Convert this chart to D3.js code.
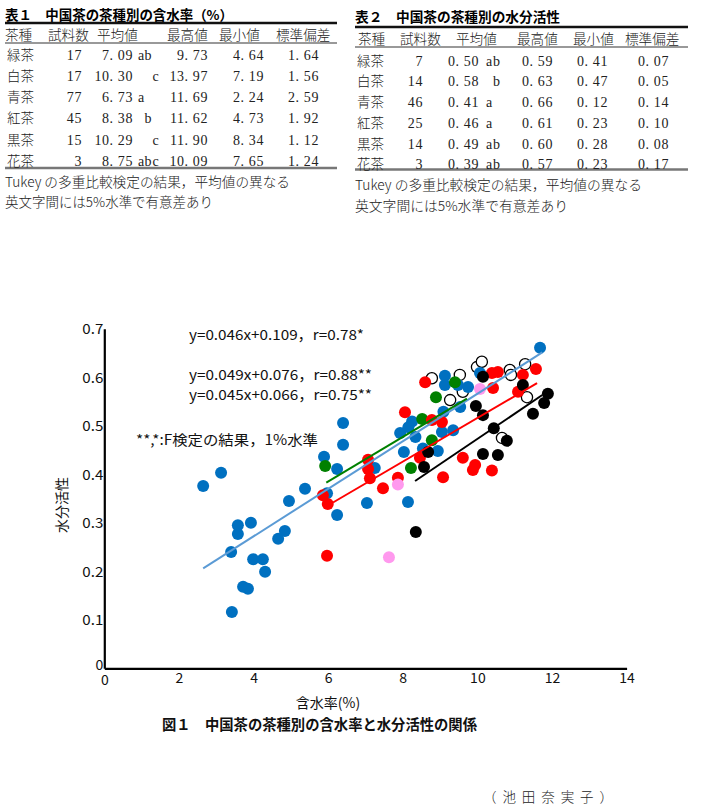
<!DOCTYPE html>
<html><head><meta charset="utf-8">
<script src="https://cdn.jsdelivr.net/npm/d3@7"></script>
<style>
html,body{margin:0;padding:0;background:#fff;}
svg{display:block;}
.jp{font-family:"Noto Sans CJK JP","Noto Sans",sans-serif;}
.tb{font-family:"Liberation Serif","Noto Sans CJK JP",serif;fill:#222;}
</style></head>
<body>
<svg id="c" width="705" height="810"></svg>
<script>
// ---------- Table data ----------
const teaTypes = ["緑茶","白茶","青茶","紅茶","黒茶","花茶"];
const t1Headers = ["茶種","試料数","平均値","最高値","最小値","標準偏差"];
const t1N    = [17,17,77,45,15,3];
const t1Mean = ["7.09","10.30","6.73","8.38","10.29","8.75"];
const t1Sig  = ["ab","c","a","b","c","abc"];
const t1Max  = ["9.73","13.97","11.69","11.62","11.90","10.09"];
const t1Min  = ["4.64","7.19","2.24","4.73","8.34","7.65"];
const t1Sd   = ["1.64","1.56","2.59","1.92","1.12","1.24"];

const t2N    = [7,14,46,25,14,3];
const t2Mean = ["0.50","0.58","0.41","0.46","0.49","0.39"];
const t2Sig  = ["ab","b","a","a","ab","ab"];
const t2Max  = ["0.59","0.63","0.66","0.61","0.60","0.57"];
const t2Min  = ["0.41","0.47","0.12","0.23","0.28","0.23"];
const t2Sd   = ["0.07","0.05","0.14","0.10","0.08","0.17"];

// ---------- Scatter data: [含水率(%), 水分活性] ----------
const seiCha = [[2.65,0.376],[3.13,0.403],[3.40,0.240],[3.58,0.295],[3.58,0.277],[3.93,0.300],[3.72,0.168],[3.85,0.164],[3.42,0.116],[3.99,0.225],[4.25,0.225],[4.31,0.199],[4.66,0.267],[4.84,0.283],[4.95,0.345],[5.38,0.370],[5.97,0.361],[6.24,0.316],[7.04,0.341],[8.14,0.343],[5.89,0.436],[6.40,0.506],[6.40,0.461],[6.24,0.411],[7.25,0.413],[7.93,0.485],[8.25,0.509],[8.15,0.497],[8.34,0.477],[9.09,0.529],[9.05,0.487],[9.35,0.491],[9.54,0.539],[8.54,0.453],[8.94,0.448],[8.03,0.446],[9.13,0.603],[9.13,0.584],[9.48,0.584],[9.75,0.580],[10.07,0.609],[11.68,0.661]];
const kouCha = [[5.97,0.232],[5.86,0.357],[5.99,0.339],[7.07,0.430],[7.07,0.411],[7.12,0.392],[7.47,0.371],[7.87,0.393],[8.46,0.434],[9.08,0.394],[9.61,0.434],[9.94,0.419],[9.88,0.409],[10.39,0.408],[8.06,0.528],[8.78,0.512],[9.05,0.508],[8.60,0.590],[10.39,0.609],[10.55,0.611],[11.22,0.605],[11.57,0.617],[10.42,0.578],[11.09,0.570]];
const kokuCha = [[8.35,0.281],[8.68,0.446],[8.57,0.415],[10.15,0.442],[10.55,0.440],[10.44,0.495],[10.79,0.469],[9.96,0.541],[10.15,0.522],[10.15,0.601],[11.22,0.584],[11.89,0.566],[11.79,0.547],[11.49,0.525]];
const ryokuCha = [[5.92,0.417],[8.89,0.559],[8.52,0.514],[8.78,0.470],[8.22,0.413],[9.40,0.590]];
const hakuCha = [[8.78,0.598],[9.53,0.605],[9.27,0.553],[9.99,0.621],[10.12,0.632],[10.87,0.615],[10.90,0.605],[11.28,0.627],[11.33,0.559],[10.66,0.475],[9.61,0.570]];
const kaCha = [[10.07,0.576],[7.87,0.379],[7.63,0.229]];

// regression lines: slope, intercept, x range
const regSlope = [0.049, 0.046, 0.045, 0.052];
const regIntercept = [0.076, 0.109, 0.066, -0.047];
const regXStart = [2.65, 5.95, 6.13, 8.33];
const regXEnd = [11.74, 9.72, 11.6, 11.74];
const regColor = ["#5b9bd5","#008000","#ff0000","#000000"];

const xTicks = [0,2,4,6,8,10,12,14];
const yTicks = [0,0.1,0.2,0.3,0.4,0.5,0.6,0.7];
const equations = ["y=0.046x+0.109，r=0.78*","y=0.049x+0.076，r=0.88**","y=0.045x+0.066，r=0.75**"];

const svg = d3.select("#c");
svg.append("rect").attr("width",705).attr("height",810).attr("fill","#fff");

// ---------- Tables ----------
function drawTable(g, o) {
  g.append("text").attr("class","jp").attr("x",o.x0).attr("y",o.titleY)
    .attr("dy","0.35em").attr("font-size",13.5).attr("font-weight","bold")
    .attr("textLength",o.titleW).attr("lengthAdjust","spacingAndGlyphs").text(o.title);
  g.append("line").attr("x1",o.x0).attr("x2",o.x1).attr("y1",o.topLine).attr("y2",o.topLine)
    .attr("stroke","#111").attr("stroke-width",2.5);
  g.append("line").attr("x1",o.x0).attr("x2",o.x1).attr("y1",o.headLine).attr("y2",o.headLine)
    .attr("stroke","#777").attr("stroke-width",1.5);
  g.append("line").attr("x1",o.x0).attr("x2",o.x1).attr("y1",o.botLine).attr("y2",o.botLine)
    .attr("stroke","#777").attr("stroke-width",2.5);
  t1Headers.forEach((h,i)=>{
    g.append("text").attr("class","jp").attr("x",o.headX[i]).attr("y",o.headY).attr("dy","0.35em")
      .attr("font-size",14).attr("fill","#222").attr("font-weight",300)
      .attr("textLength",h.length*13.6).attr("lengthAdjust","spacingAndGlyphs").text(h);
  });
  teaTypes.forEach((t,r)=>{
    const y = o.rowY[r];
    g.append("text").attr("class","jp").attr("x",o.x0+2).attr("y",y).attr("dy","0.35em")
      .attr("font-size",14).attr("fill","#222").attr("font-weight",300)
      .attr("textLength",27).attr("lengthAdjust","spacingAndGlyphs").text(t);
    const cols = [o.n[r], o.mean[r], o.max[r], o.min[r], o.sd[r]];
    cols.forEach((v,c)=>{
      g.append("text").attr("class","tb").attr("x",o.colRight[c]).attr("y",y).attr("dy","0.35em")
        .attr("text-anchor","end").attr("font-size",14).attr("letter-spacing",0.6)
        .text(String(v).replace(".",". "));
    });
    const sig = o.sig[r];
    for (const ch of sig) {
      const idx = "abc".indexOf(ch);
      g.append("text").attr("class","tb").attr("x",o.sigX[idx]).attr("y",y).attr("dy","0.35em")
        .attr("text-anchor","middle").attr("font-size",14).text(ch);
    }
  });
  o.notes.forEach((n,i)=>{
    g.append("text").attr("class","jp").attr("x",o.x0).attr("y",o.noteY[i]).attr("dy","0.35em")
      .attr("font-size",13.5).attr("fill","#222").attr("font-weight",300)
      .attr("textLength",o.noteW[i]).attr("lengthAdjust","spacingAndGlyphs").text(n);
  });
}

drawTable(svg.append("g"), {
  title:"表１　中国茶の茶種別の含水率（%）", titleY:15, titleW:228, x0:5, x1:337,
  topLine:23, headLine:43, botLine:168, headY:35,
  headX:[5,48,97,167,219,276],
  rowY:[55,76.5,97.5,118.5,140,161],
  n:t1N, mean:t1Mean, max:t1Max, min:t1Min, sd:t1Sd, sig:t1Sig,
  colRight:[82,133,208,264,319], sigX:[141,148,155.5],
  notes:["Tukey の多重比較検定の結果，平均値の異なる","英文字間には5%水準で有意差あり"],
  noteY:[182.5,202], noteW:[285,208]
});
drawTable(svg.append("g"), {
  title:"表２　中国茶の茶種別の水分活性", titleY:17, titleW:205, x0:355, x1:688,
  topLine:27, headLine:47, botLine:169.5, headY:39,
  headX:[358,400,456,517,573,625],
  rowY:[60.7,81,101.7,123,144,164.3],
  n:t2N, mean:t2Mean, max:t2Max, min:t2Min, sd:t2Sd, sig:t2Sig,
  colRight:[423,479,553,608,669], sigX:[489,496.5,504],
  notes:["Tukey の多重比較検定の結果，平均値の異なる","英文字間には5%水準で有意差あり"],
  noteY:[185,206], noteW:[287,213]
});

// ---------- Chart ----------
const x = d3.scaleLinear().domain([0,14]).range([104.3,626.6]);
const y = d3.scaleLinear().domain([0,0.7]).range([668.3,328.8]);

const gx = svg.append("g").attr("transform","translate(0,668.3)")
  .call(d3.axisBottom(x).tickValues(xTicks).tickSize(0).tickSizeOuter(0).tickPadding(5).tickFormat(d3.format("d")));
const gy = svg.append("g").attr("transform","translate(104.3,0)")
  .call(d3.axisLeft(y).tickValues(yTicks).tickSize(0).tickSizeOuter(0).tickPadding(1)
    .tickFormat(d=> d===0 ? "0" : d3.format(".1f")(d)));
[gx,gy].forEach(g=>{
  g.select(".domain").attr("stroke","#000").attr("stroke-width",2.2);
  g.selectAll("text").attr("class","jp").attr("font-size",14).attr("fill","#111");
});
gy.selectAll("text").filter(d=>d!==0).attr("textLength",21).attr("lengthAdjust","spacingAndGlyphs");
gy.selectAll("text").attr("dy","0.35em");
gy.selectAll("text").filter(d=>d===0).attr("dy","0.05em");
gx.selectAll("text").attr("dy","0.71em");
gx.selectAll("text").filter(d=>d===0).attr("dy","0.85em");

// points
function pts(data, fill, stroke) {
  svg.append("g").selectAll("circle").data(data).join("circle")
    .attr("cx",d=>x(d[0])).attr("cy",d=>y(d[1])).attr("r",stroke?5.6:6)
    .attr("fill",fill).attr("stroke",stroke||"none").attr("stroke-width",stroke?1.3:0);
}
pts(hakuCha, "#fff", "#000");
pts(seiCha, "#0070c0");
pts(ryokuCha, "#008000");
pts(kouCha, "#ff0000");
pts(kokuCha, "#000000");
pts(kaCha, "#ff99ee");

// regression lines
regSlope.forEach((s,i)=>{
  const x0=regXStart[i], x1=regXEnd[i];
  svg.append("line")
    .attr("x1",x(x0)).attr("y1",y(s*x0+regIntercept[i]))
    .attr("x2",x(x1)).attr("y2",y(s*x1+regIntercept[i]))
    .attr("stroke",regColor[i]).attr("stroke-width",2);
});

// annotations
const eqY = [335, 375, 395];
const eqW = [175, 183, 183];
equations.forEach((e,i)=>{
  svg.append("text").attr("class","jp").attr("x",189).attr("y",eqY[i]).attr("dy","0.35em")
    .attr("font-size",14).attr("fill","#111")
    .attr("textLength",eqW[i]).attr("lengthAdjust","spacingAndGlyphs").text(e);
});
svg.append("text").attr("class","jp").attr("x",136).attr("y",440.5).attr("dy","0.35em")
  .attr("font-size",14).attr("fill","#111")
  .attr("textLength",182).attr("lengthAdjust","spacingAndGlyphs").text("**,*:F検定の結果，1%水準");

// axis titles
svg.append("text").attr("class","jp").attr("transform","translate(62,505) rotate(-90)")
  .attr("text-anchor","middle").attr("dy","0.35em").attr("font-size",14).attr("fill","#111").text("水分活性");
svg.append("text").attr("class","jp").attr("x",328).attr("y",703).attr("dy","0.35em")
  .attr("text-anchor","middle").attr("font-size",14).attr("fill","#111").text("含水率(%)");

// figure caption
svg.append("text").attr("class","jp").attr("x",162).attr("y",725).attr("dy","0.35em")
  .attr("font-size",14.5).attr("font-weight","bold").attr("fill","#111")
  .attr("textLength",315).attr("lengthAdjust","spacingAndGlyphs").text("図１　中国茶の茶種別の含水率と水分活性の関係");
svg.append("text").attr("class","jp").attr("x",483).attr("y",797).attr("dy","0.35em")
  .attr("font-size",13.5).attr("font-weight",300).attr("fill","#222")
  .attr("textLength",130).attr("lengthAdjust","spacing").text("（池田奈実子）");
</script>
</body></html>
